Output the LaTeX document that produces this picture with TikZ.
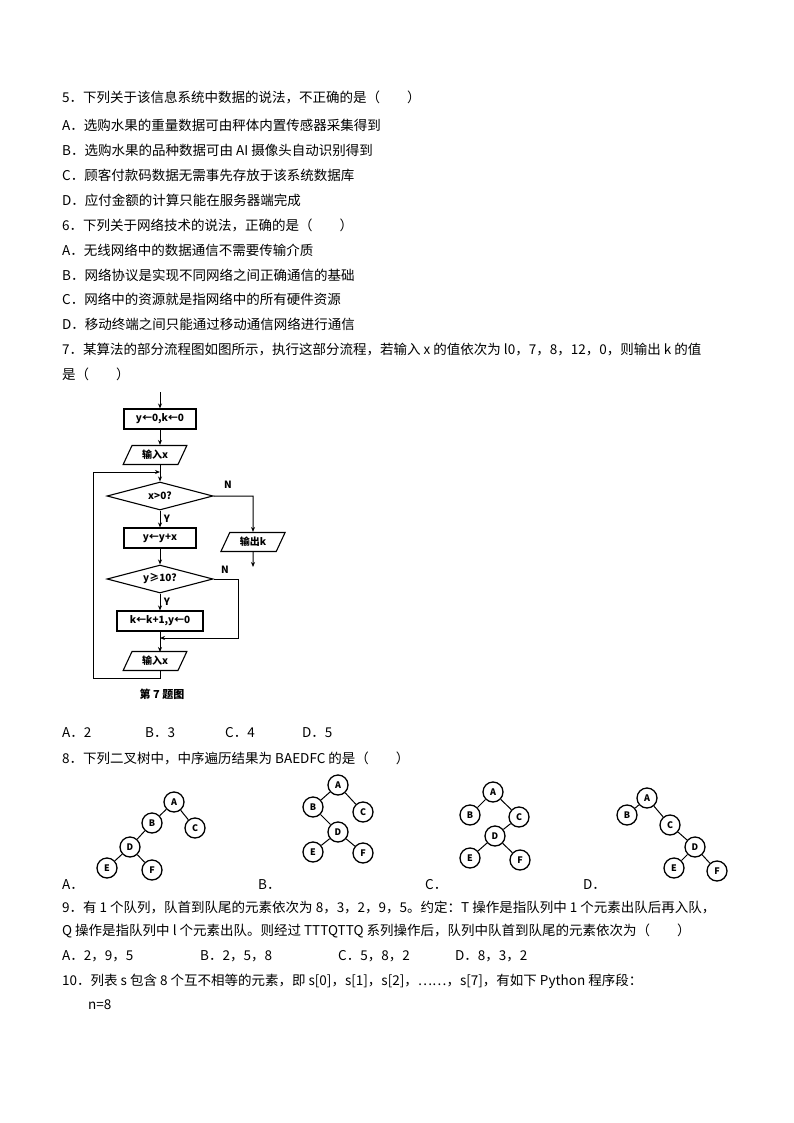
\documentclass[tikz,border=0pt]{standalone}
\usepackage{fontspec}
\setmainfont{Noto Sans CJK SC}
\usetikzlibrary{shapes.geometric,arrows.meta}
\begin{document}
\begin{tikzpicture}[x=1pt,y=-1pt,
  txt/.style={anchor=west,inner sep=0pt,font=\fontsize{13.5}{15}\selectfont},
  fl/.style={font=\fontsize{10}{11}\selectfont\bfseries},
  pbox/.style={draw,line width=1.1pt,minimum height=20pt,inner sep=1pt,fl},
  para/.style={draw,line width=1.1pt,trapezium,trapezium left angle=65,trapezium right angle=115,minimum height=19pt,inner sep=1pt,fl},
  dia/.style={draw,line width=1.1pt,diamond,aspect=3.8,inner sep=0pt,minimum width=106pt,minimum height=28pt,fl},
  arr/.style={line width=1pt,-{Stealth[length=5pt,width=4pt]}},
  tn/.style={circle,draw,line width=1.3pt,minimum size=20pt,inner sep=0pt,font=\fontsize{9}{10}\selectfont\bfseries},
  te/.style={line width=1pt}]
\useasboundingbox (0,0) rectangle (794,1123);
\fill[white] (0,0) rectangle (794,1123);
\node[txt] (t1) at (62,97) {5．下列关于该信息系统中数据的说法，不正确的是（\quad\quad）};
\node[txt] (t2) at (62,125) {A．选购水果的重量数据可由秤体内置传感器采集得到};
\node[txt] (t3) at (62,150) {B．选购水果的品种数据可由 AI 摄像头自动识别得到};
\node[txt] (t4) at (62,175) {C．顾客付款码数据无需事先存放于该系统数据库};
\node[txt] (t5) at (62,200) {D．应付金额的计算只能在服务器端完成};
\node[txt] (t6) at (62,225) {6．下列关于网络技术的说法，正确的是（\quad\quad）};
\node[txt] (t7) at (62,250) {A．无线网络中的数据通信不需要传输介质};
\node[txt] (t8) at (62,275) {B．网络协议是实现不同网络之间正确通信的基础};
\node[txt] (t9) at (62,299) {C．网络中的资源就是指网络中的所有硬件资源};
\node[txt] (t10) at (62,324) {D．移动终端之间只能通过移动通信网络进行通信};
\node[txt] (t11) at (62,350) {7．某算法的部分流程图如图所示，执行这部分流程，若输入 x 的值依次为 l0，7，8，12，0，则输出 k 的值};
\node[txt] (t12) at (62,374) {是（\quad\quad）};

% flowchart
\coordinate (s0) at (160,392);
\node[pbox,minimum width=72pt] (b1) at (160,419) {y←0,k←0};
\node[para,minimum width=50pt] (p1) at (155,455) {输入x};
\coordinate (j1) at (160,472);
\node[dia] (d1) at (160,496) {x>0?};
\node[pbox,minimum width=72pt] (b2) at (160,538) {y←y+x};
\node[dia] (d2) at (160,579) {y≥10?};
\node[pbox,minimum width=86pt] (b3) at (160,621) {k←k+1,y←0};
\coordinate (j2) at (160,638);
\node[para,minimum width=50pt] (p2) at (155,661) {输入x};
\node[para,minimum width=50pt] (p3) at (253,542) {输出k};
\coordinate (e1) at (253,567);
\draw[arr] (s0) -- (b1);
\draw[arr] (b1) -- (b1|-p1.north);
\draw[arr] (160,465) -- (d1.north);
\draw[arr] (d1.south) -- (b2.north) node[pos=0.5,right,fl] {Y};
\draw[arr] (b2.south) -- (d2.north);
\draw[arr] (d2.south) -- (b3.north) node[pos=0.5,right,fl] {Y};
\draw[arr] (b3.south) -- (160,652);
\draw[arr] (d1.east) -- (253,496) -- (p3.north);
\node[fl] at (228,485) {N};
\draw[arr] (p3.south) -- (e1);
\draw[arr] (d2.east) -- (238,579) -- (238,638) -- (j2);
\node[fl] at (225,570) {N};
\draw[arr] (160,670) -- (160,678) -- (93,678) -- (93,472) -- (j1);
\node[font=\fontsize{11}{12}\selectfont\bfseries] (cap) at (162,694) {第 7 题图};

\node[txt] (o1) at (62,733) {A．2};
\node[txt] (o2) at (145,733) {B．3};
\node[txt] (o3) at (225,733) {C．4};
\node[txt] (o4) at (302,733) {D．5};
\node[txt] (t13) at (62,758) {8．下列二叉树中，中序遍历结果为 BAEDFC 的是（\quad\quad）};

% tree A
\node[tn] (aA) at (174,802) {A};
\node[tn] (aB) at (152,823) {B};
\node[tn] (aC) at (195,828) {C};
\node[tn] (aD) at (130,847) {D};
\node[tn] (aE) at (107,868) {E};
\node[tn] (aF) at (152,870) {F};
\draw[te] (aA)--(aB) (aA)--(aC) (aB)--(aD) (aD)--(aE) (aD)--(aF);
% tree B
\node[tn] (bA) at (338,785) {A};
\node[tn] (bB) at (313,807) {B};
\node[tn] (bC) at (363,812) {C};
\node[tn] (bD) at (338,832) {D};
\node[tn] (bE) at (313,852) {E};
\node[tn] (bF) at (363,853) {F};
\draw[te] (bA)--(bB) (bA)--(bC) (bB)--(bD) (bD)--(bE) (bD)--(bF);
% tree C
\node[tn] (cA) at (493,792) {A};
\node[tn] (cB) at (470,815) {B};
\node[tn] (cC) at (519,817) {C};
\node[tn] (cD) at (495,836) {D};
\node[tn] (cE) at (470,858) {E};
\node[tn] (cF) at (520,860) {F};
\draw[te] (cA)--(cB) (cA)--(cC) (cC)--(cD) (cD)--(cE) (cD)--(cF);
% tree D
\node[tn] (dA) at (647,798) {A};
\node[tn] (dB) at (627,815) {B};
\node[tn] (dC) at (670,825) {C};
\node[tn] (dD) at (695,847) {D};
\node[tn] (dE) at (674,868) {E};
\node[tn] (dF) at (717,871) {F};
\draw[te] (dA)--(dB) (dA)--(dC) (dC)--(dD) (dD)--(dE) (dD)--(dF);

\node[txt] (la) at (62,885) {A．};
\node[txt] (lb) at (258,885) {B．};
\node[txt] (lc) at (425,885) {C．};
\node[txt] (ld) at (583,885) {D．};

\node[txt] (t14) at (62,907) {9．有 1 个队列，队首到队尾的元素依次为 8，3，2，9，5。约定：T 操作是指队列中 1 个元素出队后再入队，};
\node[txt] (t15) at (62,931) {Q 操作是指队列中 l 个元素出队。则经过 TTTQTTQ 系列操作后，队列中队首到队尾的元素依次为（\quad\quad）};
\node[txt] (q1) at (62,956) {A．2，9，5};
\node[txt] (q2) at (200,956) {B．2，5，8};
\node[txt] (q3) at (338,956) {C．5，8，2};
\node[txt] (q4) at (455,956) {D．8，3，2};
\node[txt] (t16) at (62,981) {10．列表 s 包含 8 个互不相等的元素，即 s[0]，s[1]，s[2]，……，s[7]，有如下 Python 程序段：};
\node[txt] (t17) at (88,1005) {n=8};
\end{tikzpicture}
\end{document}
